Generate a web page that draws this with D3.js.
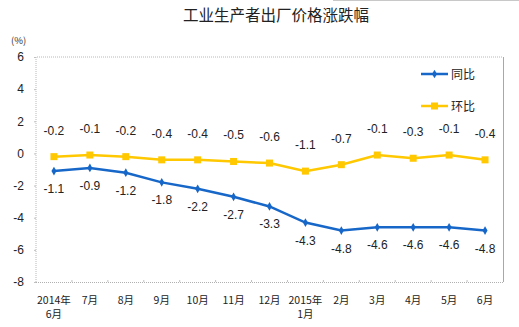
<!DOCTYPE html>
<html><head><meta charset="utf-8">
<script src="https://cdn.jsdelivr.net/npm/d3@7"></script>
<style>body{margin:0;background:#fff}svg{display:block}</style>
</head><body>
<svg id="c" width="519" height="327"></svg>
<script>
const categories = ["2014年\n6月","7月","8月","9月","10月","11月","12月","2015年\n1月","2月","3月","4月","5月","6月"];
const yoy = [-1.1,-0.9,-1.2,-1.8,-2.2,-2.7,-3.3,-4.3,-4.8,-4.6,-4.6,-4.6,-4.8];
const mom = [-0.2,-0.1,-0.2,-0.4,-0.4,-0.5,-0.6,-1.1,-0.7,-0.1,-0.3,-0.1,-0.4];
const yTicks = [6,4,2,0,-2,-4,-6,-8];
const seriesNames = ["同比","环比"];

const svg = d3.select("#c");
const L = 36, R = 503, T = 57, B = 282;
const x = d3.scaleBand().domain(categories).range([L, R]);
const y = d3.scaleLinear().domain([-8, 6]).range([B, T]);
const cx = d => x(d) + x.bandwidth()/2;
const blue = "#1767c9", yellow = "#ffc800";
const numFont = "Liberation Sans, Arial, sans-serif";
const cjk = "Noto Sans CJK SC, sans-serif";
const fmt1 = d => d.toFixed(1);

// top right artifact line
svg.append("line").attr("x1",333).attr("x2",519).attr("y1",0.5).attr("y2",0.5).attr("stroke","#c8c8c8");

svg.append("text").attr("x",276).attr("y",21).attr("text-anchor","middle")
  .attr("font-family",cjk).attr("font-size",15.5).attr("fill","#222").text("工业生产者出厂价格涨跌幅");
svg.append("text").attr("x",11).attr("y",44).attr("font-family",cjk).attr("font-size",9.5).attr("fill","#333").text("(%)");

// frame
const g = svg.append("g");
g.append("path").attr("d",`M${L},${B}V${T}H${R}`).attr("fill","none").attr("stroke","#b8b8b8").attr("stroke-dasharray","1,1");
g.append("line").attr("x1",L).attr("x2",R).attr("y1",B+0.5).attr("y2",B+0.5).attr("stroke","#b0b0b0").attr("stroke-dasharray","1,1");
g.append("line").attr("x1",R+0.5).attr("x2",R+0.5).attr("y1",T).attr("y2",B).attr("stroke","#a8a8a8");

// y axis
const ya = svg.append("g").attr("transform",`translate(${L},0)`)
  .call(d3.axisLeft(y).tickValues(yTicks).tickSize(2).tickPadding(10).tickFormat(d => String(d)));
ya.select(".domain").remove();
ya.selectAll("line").attr("stroke","#c0c0c0");
ya.selectAll("text").attr("font-family",numFont).attr("font-size",12).attr("fill","#222");

// x axis
const xa = svg.append("g").attr("transform",`translate(0,${B})`)
  .call(d3.axisBottom(x).tickSize(0).tickFormat(""));
xa.select(".domain").remove();
categories.slice(1).forEach(c => {
  svg.append("line").attr("x1",x(c)).attr("x2",x(c)).attr("y1",B-2).attr("y2",B).attr("stroke","#c0c0c0");
});
categories.forEach(c => {
  const parts = c.split("\n");
  const t = svg.append("text").attr("x",cx(c)).attr("y",B+22).attr("text-anchor","middle")
    .attr("font-family",cjk).attr("font-size",10.5).attr("fill","#222");
  parts.forEach((p,i)=> t.append("tspan").attr("x",cx(c)).attr("dy", i?14:0).text(p));
});

const line = d3.line().x((d,i)=>cx(categories[i])).y(d=>y(d));

// mom series
svg.append("path").datum(mom).attr("d",line).attr("fill","none").attr("stroke",yellow).attr("stroke-width",2.5);
svg.selectAll(".mq").data(mom).join("rect").attr("x",(d,i)=>cx(categories[i])-3.5).attr("y",d=>y(d)-3.5)
  .attr("width",7).attr("height",7).attr("fill",yellow);
svg.selectAll(".ml").data(mom).join("text").attr("x",(d,i)=>cx(categories[i])).attr("y",d=>y(d)-22)
  .attr("text-anchor","middle").attr("font-family",numFont).attr("font-size",12).attr("fill","#222").text(fmt1);

// yoy series
svg.append("path").datum(yoy).attr("d",line).attr("fill","none").attr("stroke",blue).attr("stroke-width",2.5);
svg.selectAll(".yd").data(yoy).join("path")
  .attr("transform",(d,i)=>`translate(${cx(categories[i])},${y(d)})`)
  .attr("d",d3.symbol(d3.symbolDiamond,22)).attr("fill",blue);
svg.selectAll(".yl").data(yoy).join("text")
  .attr("x",(d,i)=>cx(categories[i])).attr("y",d=>y(d)+22)
  .attr("text-anchor","middle").attr("font-family",numFont).attr("font-size",12).attr("fill","#222").text(fmt1);

// legend
const leg = [[seriesNames[0], blue, "d", 74],[seriesNames[1], yellow, "s", 106]];
leg.forEach(([name,col,shape,ly])=>{
  svg.append("line").attr("x1",421).attr("x2",448).attr("y1",ly).attr("y2",ly).attr("stroke",col).attr("stroke-width",2.5);
  if (shape==="d") svg.append("path").attr("transform",`translate(434.5,${ly})`).attr("d",d3.symbol(d3.symbolDiamond,22)).attr("fill",col);
  else svg.append("rect").attr("x",431).attr("y",ly-3.5).attr("width",7).attr("height",7).attr("fill",col);
  svg.append("text").attr("x",451).attr("y",ly+4.5).attr("font-family",cjk).attr("font-size",12).attr("fill","#222").text(name);
});
</script>
</body></html>
